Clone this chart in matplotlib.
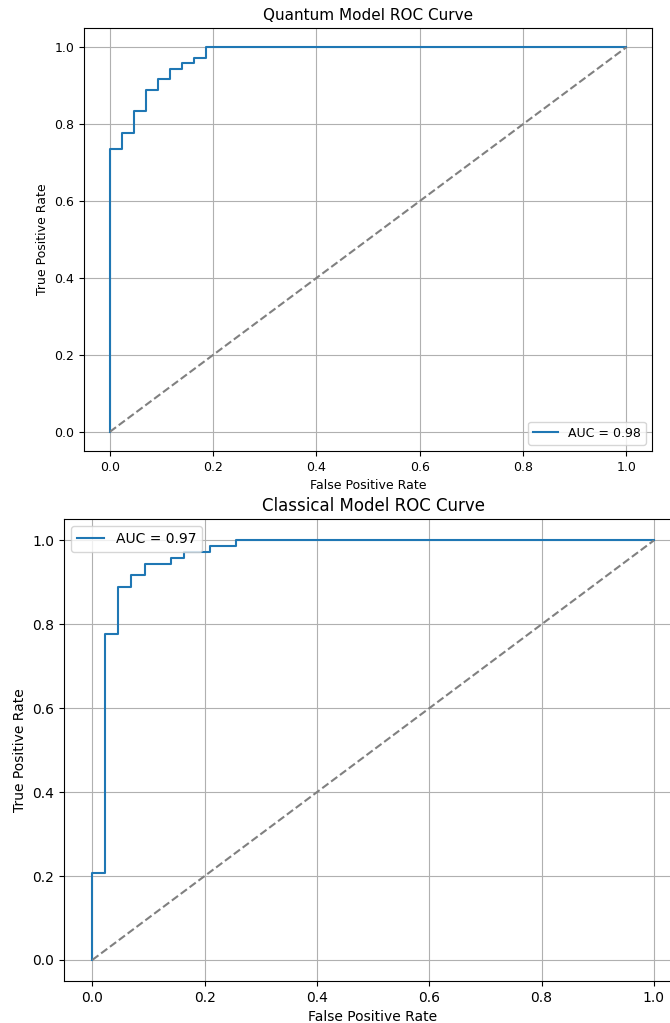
import numpy as np
import matplotlib
matplotlib.use('Agg')
import matplotlib.pyplot as plt

# ROC points (43 negatives, 72 positives)
q_fpr = np.array([0, 0, 1, 1, 2, 2, 3, 3, 4, 4, 5, 5, 6, 6, 7, 7, 8, 8, 43]) / 43
q_tpr = np.array([0, 53, 53, 56, 56, 60, 60, 64, 64, 66, 66, 68, 68, 69, 69, 70, 70, 72, 72]) / 72
q_auc = 0.98

c_fpr = np.array([0, 0, 1, 1, 2, 2, 3, 3, 4, 4, 6, 6, 7, 7, 9, 9, 11, 11, 43]) / 43
c_tpr = np.array([0, 15, 15, 56, 56, 64, 64, 66, 66, 68, 68, 69, 69, 70, 70, 71, 71, 72, 72]) / 72
c_auc = 0.97

ticks = [0.0, 0.2, 0.4, 0.6, 0.8, 1.0]

fig = plt.figure(figsize=(6.7, 10.23), dpi=100)

#top plot
ax1 = fig.add_axes([0.1254, 0.5591, 0.848, 0.4135])
ax1.plot(q_fpr, q_tpr, label='AUC = %.2f' % q_auc)
ax1.plot([0, 1], [0, 1], linestyle='--', color='gray')
ax1.set_title('Quantum Model ROC Curve', fontsize=11)
ax1.set_xlabel('False Positive Rate', fontsize=9)
ax1.set_ylabel('True Positive Rate', fontsize=9)
ax1.set_xticks(ticks)
ax1.set_yticks(ticks)
ax1.tick_params(labelsize=9)
ax1.legend(loc='lower right', fontsize=9)
ax1.grid()

#bottom plot
ax2 = fig.add_axes([0.0958, 0.0411, 0.922, 0.4511])
ax2.plot(c_fpr, c_tpr, label='AUC = %.2f' % c_auc)
ax2.plot([0, 1], [0, 1], linestyle='--', color='gray')
ax2.set_title('Classical Model ROC Curve', fontsize=12)
ax2.set_xlabel('False Positive Rate', fontsize=10)
ax2.set_ylabel('True Positive Rate', fontsize=10)
ax2.set_xticks(ticks)
ax2.set_yticks(ticks)
ax2.tick_params(labelsize=10)
ax2.legend(loc='upper left', fontsize=10)
ax2.grid()

plt.savefig('out.png', dpi=100)
